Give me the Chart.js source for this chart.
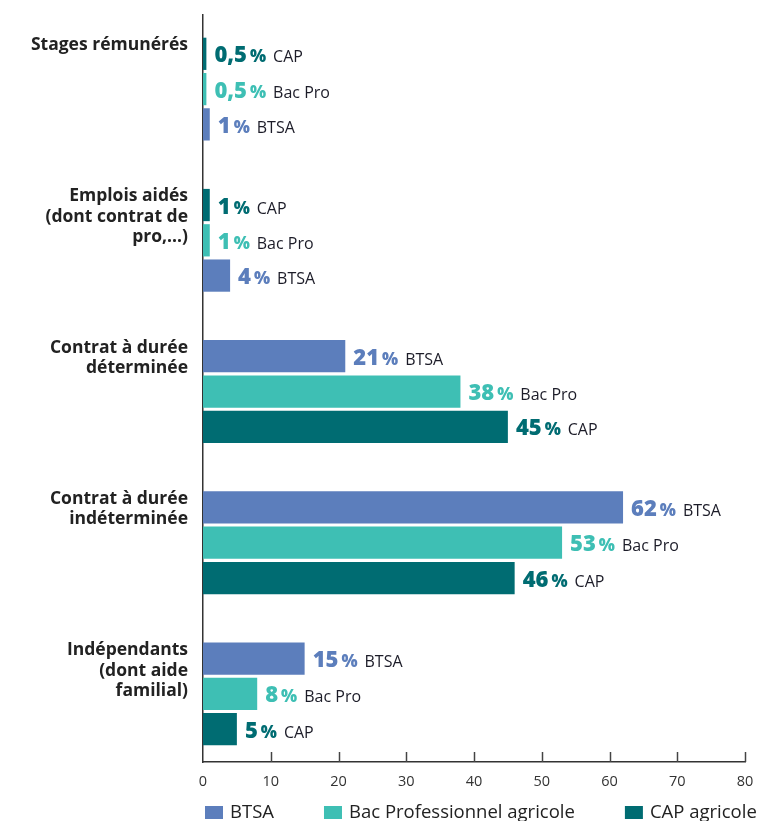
<!DOCTYPE html>
<html lang="fr">
<head>
<meta charset="utf-8">
<script src="https://cdn.jsdelivr.net/npm/chart.js@4.4.1/dist/chart.umd.min.js"></script>
<style>
  html, body { margin: 0; padding: 0; background: #ffffff; }
  #wrap { width: 767px; height: 821px; }
</style>
</head>
<body>
<div id="wrap"><canvas id="chart" width="767" height="821"></canvas></div>
<script>
// Catégories (libellés sur plusieurs lignes)
const categories = [
  ['Stages rémunérés'],
  ['Emplois aidés', '(dont contrat de', 'pro,...)'],
  ['Contrat à durée', 'déterminée'],
  ['Contrat à durée', 'indéterminée'],
  ['Indépendants', '(dont aide', 'familial)']
];

// Séries
const seriesNames = ['BTSA', 'Bac Professionnel agricole', 'CAP agricole'];
const seriesShort = ['BTSA', 'Bac Pro', 'CAP'];
const seriesColors = ['#5C7EBC', '#3EBFB4', '#006C72'];

// Valeurs en %
const btsa   = [1,   4,  21, 62, 15];
const bacPro = [0.5, 1,  38, 53,  8];
const cap    = [0.5, 1,  45, 46,  5];

// Ordre des barres (de haut en bas) dans chaque groupe : 0 = BTSA, 1 = Bac Pro, 2 = CAP
const barOrder = [
  [2, 1, 0],
  [2, 1, 0],
  [0, 1, 2],
  [0, 1, 2],
  [0, 1, 2]
];

// Axe des valeurs
const xMin = 0;
const xMax = 80;
const xStep = 10;

// Axe des catégories (positions 0..4, de haut en bas)
const yMin = -0.49;
const yMax = 4.45;

const FONT = '"Open Sans", Lato, "DejaVu Sans", sans-serif';
const seriesValues = [btsa, bacPro, cap];

// Un jeu de données par position dans le groupe, coloré selon la série affichée
const slotDatasets = [0, 1, 2].map(slot => ({
  label: 'rang ' + (slot + 1),
  data: categories.map((_, i) => ({ y: i, x: seriesValues[barOrder[i][slot]][i] })),
  series: categories.map((_, i) => barOrder[i][slot]),
  backgroundColor: categories.map((_, i) => seriesColors[barOrder[i][slot]]),
  borderWidth: 0,
  categoryPercentage: 0.7,
  barPercentage: 0.914
}));

const fmt = v => String(v).replace('.', ',');

// Étiquettes de valeur à droite des barres
const valueLabels = {
  id: 'valueLabels',
  afterDatasetsDraw(chart) {
    const ctx = chart.ctx;
    chart.data.datasets.forEach((ds, di) => {
      const meta = chart.getDatasetMeta(di);
      meta.data.forEach((bar, i) => {
        const s = ds.series[i];
        let x = bar.x + 8;
        const base = bar.y + 8.5;
        ctx.save();
        ctx.textAlign = 'left';
        ctx.textBaseline = 'alphabetic';
        ctx.fillStyle = seriesColors[s];
        ctx.font = '800 22px ' + FONT;
        const t = fmt(ds.data[i].x);
        ctx.fillText(t, x, base);
        x += ctx.measureText(t).width + 3;
        ctx.font = '800 17px ' + FONT;
        ctx.fillText('%', x, base);
        x += ctx.measureText('%').width + 7;
        ctx.fillStyle = '#1c1c28';
        ctx.font = '400 16px ' + FONT;
        ctx.fillText(seriesShort[s], x, base);
        ctx.restore();
      });
    });
  }
};

// Libellés de catégories alignés en haut de chaque groupe
const categoryLabels = {
  id: 'categoryLabels',
  afterDraw(chart) {
    const ctx = chart.ctx;
    const y = chart.scales.y;
    const pitch = Math.abs(y.getPixelForValue(1) - y.getPixelForValue(0));
    const groupHalf = pitch * 0.7 / 2;
    ctx.save();
    ctx.font = '700 17.5px ' + FONT;
    ctx.fillStyle = '#222222';
    ctx.textAlign = 'right';
    ctx.textBaseline = 'middle';
    categories.forEach((lines, i) => {
      const top = y.getPixelForValue(i) - groupHalf;
      lines.forEach((line, k) => {
        ctx.fillText(line, 188, top + 9 + k * 20.5);
      });
    });
    ctx.restore();
  }
};

// Graduations tournées vers l'intérieur sur l'axe horizontal
const innerTicks = {
  id: 'innerTicks',
  afterDraw(chart) {
    const ctx = chart.ctx;
    const x = chart.scales.x;
    const bottom = chart.chartArea.bottom;
    ctx.save();
    ctx.strokeStyle = '#444444';
    ctx.lineWidth = 1.5;
    x.ticks.forEach(t => {
      if (t.value === xMin) return;
      const px = Math.round(x.getPixelForValue(t.value)) + 0.5;
      ctx.beginPath();
      ctx.moveTo(px, bottom - 10);
      ctx.lineTo(px, bottom);
      ctx.stroke();
    });
    ctx.restore();
  }
};

// Légende en bas, alignée sur l'axe vertical
const bottomLegend = {
  id: 'bottomLegend',
  afterDraw(chart) {
    const ctx = chart.ctx;
    let x = chart.chartArea.left + 2;
    const yc = 812.5;
    ctx.save();
    ctx.font = '400 18.5px ' + FONT;
    ctx.textBaseline = 'middle';
    ctx.textAlign = 'left';
    seriesNames.forEach((name, s) => {
      ctx.fillStyle = seriesColors[s];
      ctx.fillRect(x, yc - 6.5, 18, 13);
      ctx.fillStyle = '#222222';
      ctx.fillText(name, x + 25, yc);
      x += 25 + ctx.measureText(name).width + 50;
    });
    ctx.restore();
  }
};

new Chart(document.getElementById('chart'), {
  type: 'bar',
  data: {
    datasets: slotDatasets
  },
  options: {
    indexAxis: 'y',
    responsive: false,
    animation: false,
    layout: { padding: { top: 15, right: 22, left: 0, bottom: 0 } },
    plugins: {
      legend: { display: false },
      tooltip: { enabled: false }
    },
    scales: {
      y: {
        type: 'linear',
        reverse: true,
        offset: false,
        min: yMin,
        max: yMax,
        grid: { display: false },
        border: { display: true, color: '#333333', width: 1.5 },
        ticks: { display: false },
        // une graduation par catégorie : l'espacement des groupes en découle
        afterBuildTicks(scale) {
          scale.ticks = categories.map((_, i) => ({ value: i }));
        },
        afterFit(scale) { scale.width = 203; }
      },
      x: {
        min: xMin,
        max: xMax,
        grid: { display: false },
        border: { display: true, color: '#333333', width: 1.5 },
        ticks: {
          stepSize: xStep,
          color: '#333333',
          padding: 3,
          font: { family: FONT, size: 14.5 },
          maxRotation: 0
        },
        afterFit(scale) { scale.height = 59; }
      }
    }
  },
  plugins: [valueLabels, categoryLabels, innerTicks, bottomLegend]
});
</script>
</body>
</html>
